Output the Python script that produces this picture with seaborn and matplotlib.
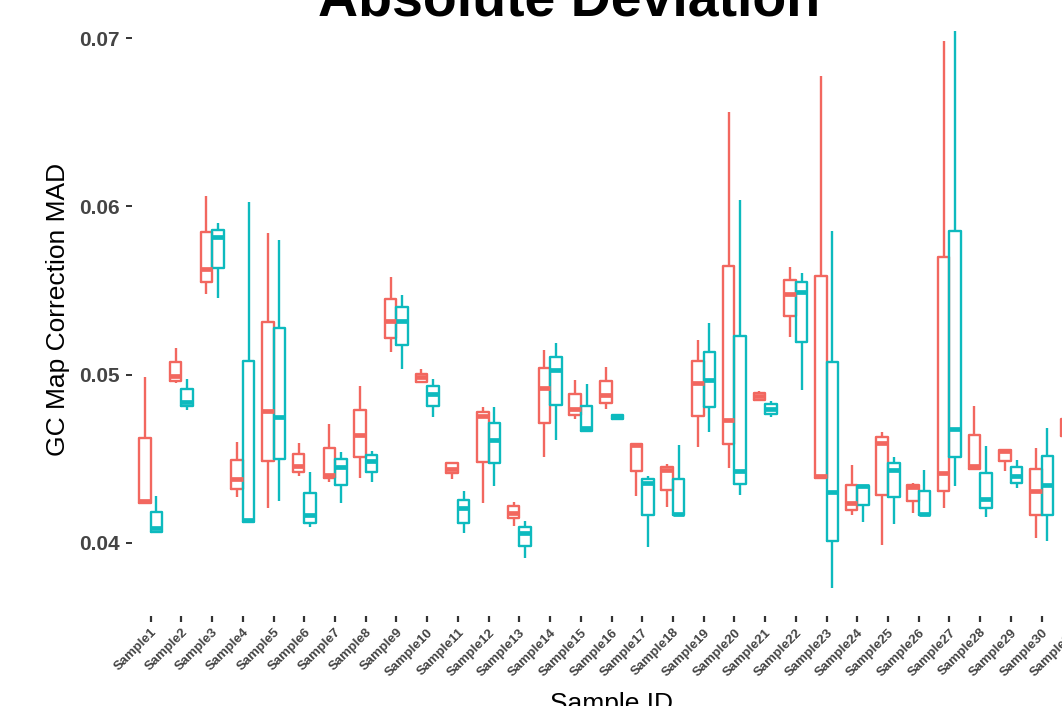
import numpy as np
import pandas as pd
import matplotlib
matplotlib.use("Agg")
import matplotlib.pyplot as plt
import seaborn as sns

# Per-sample five-number summaries (min, Q1, median, Q3, max) of the GC map correction MAD
samples = [f"Sample{i}" for i in range(1, 32)]
groups = ["Batch A", "Batch B"]
colors = ["#F2675F", "#0DBABE"]

nan = np.nan
a_lo = [0.04237, 0.04948, 0.05477, 0.04273, 0.04204, 0.04396, 0.04362, 0.04382, 0.05132, 0.04955,
        0.04378, 0.04237, 0.04098, 0.04512, 0.04737, 0.04793, 0.04277, 0.04210, 0.04570, 0.04441,
        0.04845, 0.05224, 0.04380, 0.04166, 0.03985, 0.04176, 0.04206, 0.04435, 0.04427, 0.04030,
        0.04560]
a_q1 = [0.04237, 0.04963, 0.05551, 0.04318, 0.04487, 0.04418, 0.04382, 0.04507, 0.05219, 0.04957,
        0.04415, 0.04481, 0.04144, 0.04710, 0.04759, 0.04829, 0.04427, 0.04312, 0.04753, 0.04585,
        0.04847, 0.05349, 0.04383, 0.04195, 0.04285, 0.04247, 0.04308, 0.04440, 0.04486, 0.04165,
        0.04632]
a_med = [0.04245, 0.04990, 0.05630, 0.04378, 0.04783, 0.04455, 0.04402, 0.04642, 0.05317, 0.04983,
         0.04437, 0.04755, 0.04177, 0.04918, 0.04793, 0.04878, 0.04580, 0.04432, 0.04948, 0.04728,
         0.04873, 0.05482, 0.04396, 0.04236, 0.04593, 0.04331, 0.04415, 0.04457, 0.04543, 0.04304,
         0.04690]
a_q3 = [0.04624, 0.05076, 0.05846, 0.04491, 0.05311, 0.04525, 0.04561, 0.04789, 0.05449, 0.05001,
        0.04471, 0.04775, 0.04219, 0.05037, 0.04882, 0.04961, 0.04586, 0.04451, 0.05080, 0.05646,
        0.04888, 0.05564, 0.05589, 0.04345, 0.04627, 0.04342, 0.05698, 0.04639, 0.04552, 0.04438,
        0.04734]
a_hi = [0.04987, 0.05160, 0.06063, 0.04600, 0.05840, 0.04594, 0.04705, 0.04932, 0.05579, 0.05031,
        0.04479, 0.04808, 0.04239, 0.05146, 0.04967, 0.05043, 0.04594, 0.04467, 0.05205, 0.06564,
        0.04904, 0.05640, 0.06777, 0.04461, 0.04657, 0.04354, 0.06985, 0.04810, 0.04559, 0.04563,
        0.04810]

b_lo = [0.04055, 0.04789, 0.05454, 0.04120, 0.04249, 0.04090, 0.04233, 0.04362, 0.05033, 0.04745,
        0.04058, 0.04338, 0.03910, 0.04610, 0.04660, 0.04735, 0.03975, 0.04160, 0.04660, 0.04283,
        0.04748, 0.04908, 0.03730, 0.04123, 0.04108, 0.04160, 0.04336, 0.04154, 0.04326, 0.04008,
        nan]
b_q1 = [0.04064, 0.04814, 0.05632, 0.04124, 0.04499, 0.04118, 0.04340, 0.04420, 0.05174, 0.04814,
        0.04118, 0.04471, 0.03979, 0.04818, 0.04665, 0.04735, 0.04164, 0.04162, 0.04808, 0.04351,
        0.04765, 0.05195, 0.04011, 0.04226, 0.04270, 0.04165, 0.04507, 0.04206, 0.04354, 0.04167,
        nan]
b_med = [0.04085, 0.04835, 0.05820, 0.04134, 0.04749, 0.04164, 0.04448, 0.04483, 0.05318, 0.04882,
         0.04204, 0.04610, 0.04055, 0.05027, 0.04683, 0.04746, 0.04356, 0.04168, 0.04967, 0.04423,
         0.04795, 0.05492, 0.04298, 0.04335, 0.04429, 0.04171, 0.04673, 0.04262, 0.04399, 0.04342,
         nan]
b_q3 = [0.04182, 0.04914, 0.05860, 0.05082, 0.05275, 0.04293, 0.04499, 0.04521, 0.05400, 0.04933,
        0.04253, 0.04713, 0.04094, 0.05106, 0.04812, 0.04757, 0.04376, 0.04376, 0.05136, 0.05232,
        0.04822, 0.05552, 0.05076, 0.04339, 0.04474, 0.04308, 0.05857, 0.04415, 0.04449, 0.04513,
        nan]
b_hi = [0.04277, 0.04971, 0.05900, 0.06029, 0.05801, 0.04421, 0.04540, 0.04547, 0.05473, 0.04971,
        0.04305, 0.04808, 0.04128, 0.05186, 0.04942, 0.04757, 0.04396, 0.04578, 0.05305, 0.06040,
        0.04843, 0.05605, 0.05855, 0.04345, 0.04507, 0.04429, 0.07042, 0.04574, 0.04490, 0.04680,
        nan]

y_ticks = [0.04, 0.05, 0.06, 0.07]
y_limits = (0.03563, 0.07217)

# Long table: five values per sample/group reproduce the quartiles exactly
rows = []
for grp, stats in zip(groups, [(a_lo, a_q1, a_med, a_q3, a_hi), (b_lo, b_q1, b_med, b_q3, b_hi)]):
    for i, s in enumerate(samples):
        for arr in stats:
            v = arr[i]
            if not np.isnan(v):
                rows.append({"sample": s, "group": grp, "mad": v})
df = pd.DataFrame(rows)

sns.set_theme(style="white")
plt.rcParams["font.family"] = ["Liberation Sans", "DejaVu Sans"]

fig = plt.figure(figsize=(10.62, 7.06), dpi=100)
W, H = 1062, 706
left_px, bottom_px, top_px = 132.3, 616, 2
width_px = 31.2 * 30.72
ax = fig.add_axes([left_px / W, (H - bottom_px) / H, width_px / W, (bottom_px - top_px) / H])

sns.boxplot(
    data=df, x="sample", y="mad", hue="group",
    order=samples, hue_order=groups, palette=colors,
    fill=False, width=0.75, gap=0, whis=(0, 100),
    showcaps=False, showfliers=False, linewidth=1.7,
    medianprops={"linewidth": 3.4},
    legend=False, ax=ax,
)

ax.set_ylim(*y_limits)
ax.set_xlim(-0.6, len(samples) - 0.4)

sns.despine(ax=ax, left=True, bottom=True, right=True, top=True)
ax.grid(False)

ax.set_yticks(y_ticks)
ax.set_yticklabels([f"{t:.2f}" for t in y_ticks], fontsize=15, fontweight="bold", color="#444444")
ax.tick_params(axis="y", length=4, width=1.4, color="#333333", pad=5, left=True)
ax.tick_params(axis="x", length=4.5, width=1.6, color="#333333", pad=3, bottom=True)
ax.set_xticks(range(len(samples)))
ax.set_xticklabels(samples, rotation=45, ha="right", va="top", rotation_mode="anchor",
                   fontsize=9.5, fontweight="bold", color="#444444")
ax.set_xlabel("")
ax.set_ylabel("")

fig.text(58 / W, 1 - 309 / H, "GC Map Correction MAD", rotation=90,
         ha="center", va="center", fontsize=19, color="black")
fig.text(612 / W, -5 / H, "Sample ID", ha="center", va="baseline", fontsize=19, color="black")
fig.text(569.5 / W, 1 - 16 / H, "Absolute Deviation", ha="center", va="baseline",
         fontsize=40, fontweight="bold", color="black")

fig.savefig("out.png", dpi=100)
